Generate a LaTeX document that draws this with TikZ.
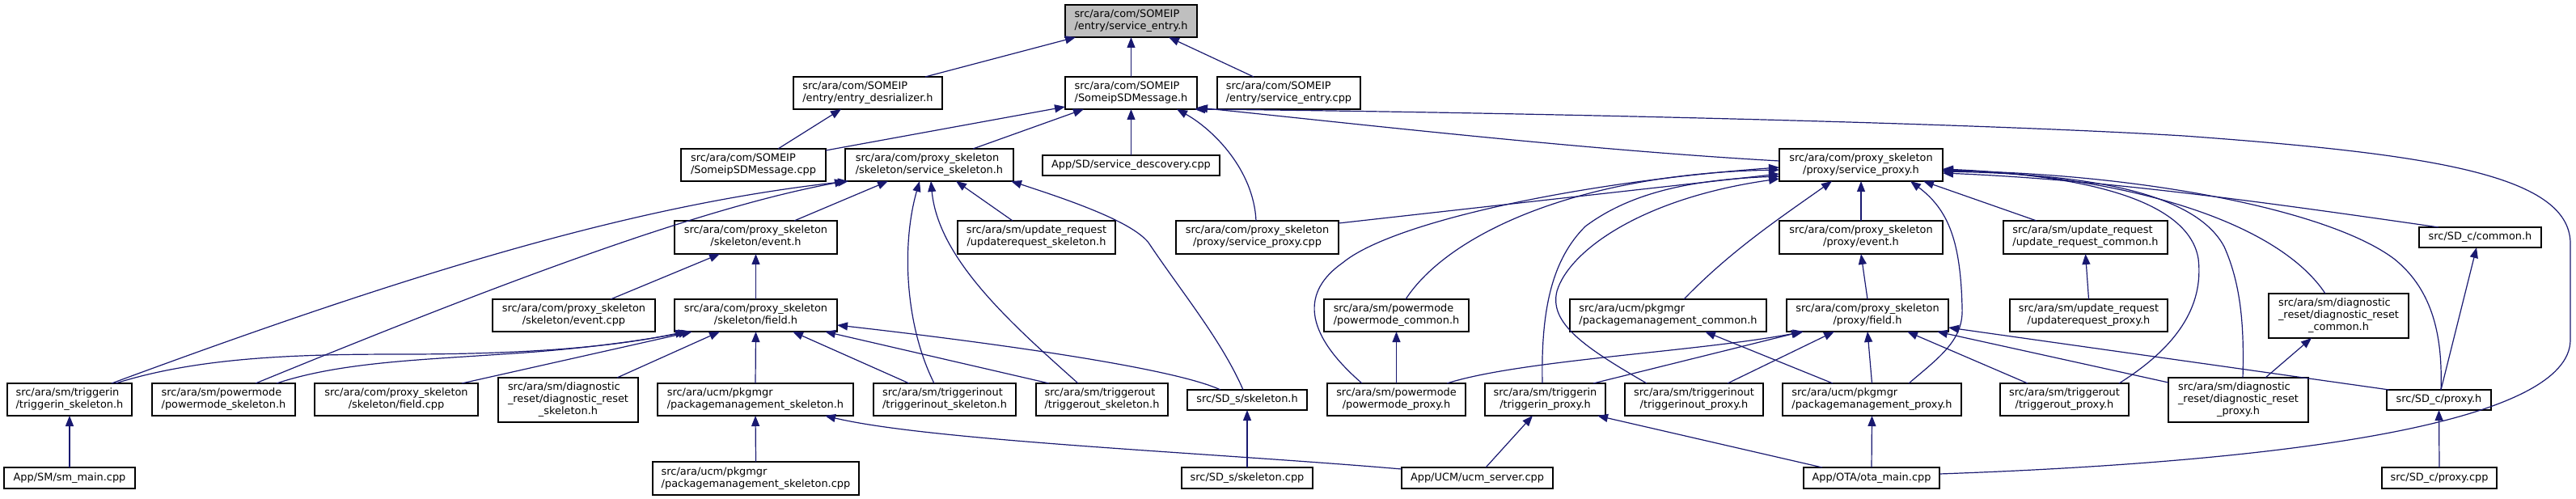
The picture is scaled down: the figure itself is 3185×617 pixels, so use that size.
\documentclass[tikz,border=0pt]{standalone}
\usepackage{fontspec}
\setmainfont{DejaVu Sans}
\usetikzlibrary{arrows.meta}
\definecolor{mblue}{HTML}{191970}
\definecolor{rootgray}{HTML}{BFBFBF}
\newcommand\Ltwo[2]{\begin{tabular}{@{}l@{}}#1\\\multicolumn{1}{@{}c@{}}{#2}\end{tabular}}
\newcommand\Lthree[3]{\begin{tabular}{@{}l@{}}#1\\#2\\\multicolumn{1}{@{}c@{}}{#3}\end{tabular}}
\newcommand\bx[7][]{\node[box,#1,minimum width={#5-#3},minimum height={#6-#4}] (#2) at ({(#3+#5)/2},{(#4+#6)/2}) {#7};}
\begin{document}
\begin{tikzpicture}[x=1pt,y=-1pt,
  box/.style={draw=black,line width=1.3pt,fill=white,inner sep=0pt,outer sep=0pt,font=\fontsize{12.9}{15}\selectfont},
  dep/.style={draw=mblue,line width=1.2pt,-{Triangle[length=13pt,width=10pt]}}]
\useasboundingbox (0,0) rectangle (3185,617);
% nodes
\bx[fill=rootgray]{root}{1317}{6}{1480}{46}{\Ltwo{src/ara/com/SOMEIP}{/entry/service\_entry.h}}
\bx{desr}{981}{95}{1165}{135}{\Ltwo{src/ara/com/SOMEIP}{/entry/entry\_desrializer.h}}
\bx{sdmh}{1317}{95}{1480}{135}{\Ltwo{src/ara/com/SOMEIP}{/SomeipSDMessage.h}}
\bx{secpp}{1505}{95}{1682}{135}{\Ltwo{src/ara/com/SOMEIP}{/entry/service\_entry.cpp}}
\bx{sdmcpp}{842}{184}{1021}{224}{\Ltwo{src/ara/com/SOMEIP}{/SomeipSDMessage.cpp}}
\bx{sskel}{1045}{184}{1253}{224}{\Ltwo{src/ara/com/proxy\_skeleton}{/skeleton/service\_skeleton.h}}
\bx{sdisc}{1289}{192}{1508}{217}{App/SD/service\_descovery.cpp}
\bx{sproxcpp}{1454}{273}{1655}{314}{\Ltwo{src/ara/com/proxy\_skeleton}{/proxy/service\_proxy.cpp}}
\bx{skevh}{834}{273}{1035}{314}{\Ltwo{src/ara/com/proxy\_skeleton}{/skeleton/event.h}}
\bx{urskel}{1184}{273}{1379}{314}{\Ltwo{src/ara/sm/update\_request}{/updaterequest\_skeleton.h}}
\bx{sproxh}{2200}{184}{2402}{224}{\Ltwo{src/ara/com/proxy\_skeleton}{/proxy/service\_proxy.h}}
\bx{pevh}{2200}{273}{2402}{314}{\Ltwo{src/ara/com/proxy\_skeleton}{/proxy/event.h}}
\bx{urcommon}{2477}{273}{2680}{314}{\Ltwo{src/ara/sm/update\_request}{/update\_request\_common.h}}
\bx{sdccommon}{2991}{281}{3142}{306}{src/SD\_c/common.h}
\bx{skevcpp}{609}{370}{810}{410}{\Ltwo{src/ara/com/proxy\_skeleton}{/skeleton/event.cpp}}
\bx{skfield}{834}{370}{1035}{410}{\Ltwo{src/ara/com/proxy\_skeleton}{/skeleton/field.h}}
\bx{pmcommon}{1637}{370}{1816}{410}{\Ltwo{src/ara/sm/powermode}{/powermode\_common.h}}
\bx{pkgcommon}{1941}{370}{2184}{410}{\Ltwo{src/ara/ucm/pkgmgr}{/packagemanagement\_common.h}}
\bx{pfield}{2209}{370}{2409}{410}{\Ltwo{src/ara/com/proxy\_skeleton}{/proxy/field.h}}
\bx{urproxy}{2485}{370}{2680}{410}{\Ltwo{src/ara/sm/update\_request}{/updaterequest\_proxy.h}}
\bx{drcommon}{2805}{363}{2978}{418}{\Lthree{src/ara/sm/diagnostic}{\_reset/diagnostic\_reset}{\_common.h}}
\bx{tinskel}{9}{474}{163}{514}{\Ltwo{src/ara/sm/triggerin}{/triggerin\_skeleton.h}}
\bx{pmskel}{188}{474}{365}{514}{\Ltwo{src/ara/sm/powermode}{/powermode\_skeleton.h}}
\bx{skfieldcpp}{389}{474}{591}{514}{\Ltwo{src/ara/com/proxy\_skeleton}{/skeleton/field.cpp}}
\bx{drskel}{616}{467}{789}{522}{\Lthree{src/ara/sm/diagnostic}{\_reset/diagnostic\_reset}{\_skeleton.h}}
\bx{pkgskel}{813}{474}{1055}{514}{\Ltwo{src/ara/ucm/pkgmgr}{/packagemanagement\_skeleton.h}}
\bx{tioskel}{1080}{474}{1256}{514}{\Ltwo{src/ara/sm/triggerinout}{/triggerinout\_skeleton.h}}
\bx{toskel}{1281}{474}{1444}{514}{\Ltwo{src/ara/sm/triggerout}{/triggerout\_skeleton.h}}
\bx{sdsskel}{1468}{482}{1616}{507}{src/SD\_s/skeleton.h}
\bx{pmproxy}{1641}{474}{1812}{514}{\Ltwo{src/ara/sm/powermode}{/powermode\_proxy.h}}
\bx{tinproxy}{1836}{474}{1985}{514}{\Ltwo{src/ara/sm/triggerin}{/triggerin\_proxy.h}}
\bx{tioproxy}{2009}{474}{2180}{514}{\Ltwo{src/ara/sm/triggerinout}{/triggerinout\_proxy.h}}
\bx{pkgproxy}{2204}{474}{2425}{514}{\Ltwo{src/ara/ucm/pkgmgr}{/packagemanagement\_proxy.h}}
\bx{toproxy}{2473}{474}{2632}{514}{\Ltwo{src/ara/sm/triggerout}{/triggerout\_proxy.h}}
\bx{drproxy}{2681}{467}{2854}{522}{\Lthree{src/ara/sm/diagnostic}{\_reset/diagnostic\_reset}{\_proxy.h}}
\bx{sdcproxy}{2951}{482}{3080}{507}{src/SD\_c/proxy.h}
\bx{smmain}{5}{578}{167}{604}{App/SM/sm\_main.cpp}
\bx{pkgskelcpp}{807}{571}{1062}{612}{\Ltwo{src/ara/ucm/pkgmgr}{/packagemanagement\_skeleton.cpp}}
\bx{sdsskelcpp}{1461}{578}{1623}{604}{src/SD\_s/skeleton.cpp}
\bx{ucm}{1733}{578}{1920}{604}{App/UCM/ucm\_server.cpp}
\bx{ota}{2230}{578}{2398}{604}{App/OTA/ota\_main.cpp}
\bx{sdcproxycpp}{2945}{578}{3087}{604}{src/SD\_c/proxy.cpp}
% edges
\draw[dep] ([xshift=71pt]desr.north) -- ([xshift=-68.5pt]root.south);
\draw[dep] (sdmh.north) -- (root.south);
\draw[dep] ([xshift=-43.5pt]secpp.north) -- ([xshift=46.5pt]root.south);
\draw[dep] ([xshift=30.5pt]sdmcpp.north) -- ([xshift=-33pt]desr.south);
\draw[dep] ([yshift=-2pt]sdmcpp.north east) -- ([yshift=3pt]sdmh.south west);
\draw[dep] ([xshift=54pt]sskel.north) -- ([xshift=-58.5pt]sdmh.south);
\draw[dep] (sdisc.north) -- (sdmh.south);
\draw[dep] ([xshift=-1.5pt]sproxcpp.north) .. controls (1550,210) and (1500,160) .. ([xshift=56.5pt]sdmh.south);
\draw[dep] ([yshift=5pt]sproxh.west) .. controls (1950,185) and (1650,150) .. ([yshift=2pt]sdmh.south east);
\draw[dep] ([yshift=5pt]ota.east) .. controls (2850,570) and (3178,520) .. (3178,420) -- (3178,300) .. controls (3176,215) and (3000,190) .. (2700,168) .. controls (2400,150) and (1800,138) .. ([xshift=-3pt]sdmh.south east);
% to service_skeleton
\draw[dep] ([xshift=47.5pt]skevh.north) -- ([xshift=-51pt]sskel.south);
\draw[dep] ([xshift=-29.5pt]urskel.north) -- ([xshift=33pt]sskel.south);
\draw[dep] ([xshift=-5pt]sdsskel.north) .. controls (1510,420) and (1460,360) .. (1420,300) .. controls (1400,275) and (1330,250) .. ([xshift=-3pt]sskel.south east);
\draw[dep] ([xshift=-13pt]tioskel.north) .. controls (1118,400) and (1115,300) .. ([xshift=-12pt]sskel.south);
\draw[dep] ([xshift=-29.5pt]toskel.north) .. controls (1250,400) and (1160,320) .. ([xshift=2pt]sskel.south);
\draw[dep] ([xshift=52pt]tinskel.north) .. controls (538,326) and (799,252) .. ([xshift=4pt]sskel.south west);
\draw[dep] ([xshift=39.5pt]pmskel.north) .. controls (616,351) and (865,257) .. (sskel.south west);
% skeleton field / event
\draw[dep] (skfield.north) -- (skevh.south);
\draw[dep] ([xshift=45.5pt]skevcpp.north) -- ([xshift=-44.5pt]skevh.south);
\draw[dep] ([xshift=57pt]tinskel.north) .. controls (250,440) and (380,438) .. (500,438) .. controls (700,438) and (790,422) .. ([xshift=-86.5pt]skfield.south);
\draw[dep] ([xshift=65.5pt]pmskel.north) .. controls (420,448) and (520,445) .. (620,438) .. controls (720,432) and (800,420) .. ([xshift=-82.5pt]skfield.south);
\draw[dep] ([xshift=81pt]skfieldcpp.north) -- ([xshift=-78.5pt]skfield.south);
\draw[dep] ([xshift=60.5pt]drskel.north) -- ([xshift=-44.5pt]skfield.south);
\draw[dep] (pkgskel.north) -- (skfield.south);
\draw[dep] ([xshift=-44pt]tioskel.north) -- ([xshift=45.5pt]skfield.south);
\draw[dep] ([xshift=-65.5pt]toskel.north) -- ([xshift=85.5pt]skfield.south);
\draw[dep] ([xshift=-33pt]sdsskel.north) .. controls (1440,450) and (1150,415) .. ([yshift=-12pt]skfield.east);
\draw[dep] (pkgskelcpp.north) -- (pkgskel.south);
\draw[dep] ([yshift=-2pt]ucm.north west) .. controls (1500,560) and (1150,545) .. ([xshift=86pt]pkgskel.south);
\draw[dep] (sdsskelcpp.north) -- (sdsskel.south);
\draw[dep] (smmain.north) -- (tinskel.south);
% to service_proxy.h
\draw[dep] ([yshift=-3pt]sproxcpp.north east) -- ([yshift=-11pt]sproxh.west);
\draw[dep] ([xshift=-42.5pt]pmproxy.north) .. controls (1610,410) and (1610,360) .. (1660,325) .. controls (1720,275) and (1950,225) .. ([yshift=-3pt]sproxh.west);
\draw[dep] ([xshift=11.5pt]pmcommon.north) .. controls (1790,290) and (1950,215) .. ([yshift=-6pt]sproxh.west);
\draw[dep] ([xshift=-3.5pt]tinproxy.north) .. controls (1905,380) and (1920,320) .. (1960,280) .. controls (2020,235) and (2100,222) .. ([yshift=-14pt]sproxh.west);
\draw[dep] ([xshift=-58.5pt]tioproxy.north) .. controls (1960,430) and (1915,400) .. (1925,360) .. controls (1940,310) and (2030,245) .. ([yshift=-17pt]sproxh.west);
\draw[dep] ([xshift=19.5pt]pkgcommon.north) .. controls (2140,310) and (2200,270) .. ([xshift=-36pt]sproxh.south);
\draw[dep] (pevh.north) -- (sproxh.south);
\draw[dep] ([xshift=45.5pt]pkgproxy.north) .. controls (2400,440) and (2428,420) .. (2426,380) .. controls (2424,300) and (2410,260) .. ([xshift=61pt]sproxh.south);
\draw[dep] ([xshift=-60.5pt]urcommon.north) -- ([xshift=77pt]sproxh.south);
\draw[dep] ([xshift=-51.5pt]sdccommon.north) .. controls (2800,250) and (2600,222) .. ([yshift=-10pt]sproxh.east);
\draw[dep] ([xshift=67.5pt]toproxy.north) .. controls (2690,430) and (2725,380) .. (2718,320) .. controls (2705,240) and (2550,215) .. ([yshift=-6pt]sproxh.east);
\draw[dep] ([xshift=5.5pt]drproxy.north) .. controls (2775,400) and (2770,350) .. (2750,305) .. controls (2710,230) and (2550,215) .. ([yshift=-8pt]sproxh.east);
\draw[dep] ([xshift=-16.5pt]drcommon.north) .. controls (2820,280) and (2650,220) .. ([yshift=-5pt]sproxh.east);
\draw[dep] ([xshift=2.5pt]sdcproxy.north) .. controls (3020,420) and (3010,360) .. (2960,320) .. controls (2880,260) and (2650,215) .. ([yshift=-7pt]sproxh.east);
% proxy field
\draw[dep] (pfield.north) -- (pevh.south);
\draw[dep] ([xshift=62.5pt]pmproxy.north) .. controls (1880,445) and (2100,435) .. ([xshift=-79pt]pfield.south);
\draw[dep] ([xshift=59.5pt]tinproxy.north) -- ([xshift=-81pt]pfield.south);
\draw[dep] ([xshift=41.5pt]tioproxy.north) -- ([xshift=-41pt]pfield.south);
\draw[dep] (pkgproxy.north) -- (pfield.south);
\draw[dep] ([xshift=-45.5pt]toproxy.north) -- ([xshift=49pt]pfield.south);
\draw[dep] ([yshift=-6pt]drproxy.north west) -- ([xshift=86pt]pfield.south);
\draw[dep] ([xshift=3pt]sdcproxy.north west) -- ([yshift=5pt]pfield.south east);
\draw[dep] ([xshift=-48.5pt]pkgproxy.north) -- ([xshift=45.5pt]pkgcommon.south);
\draw[dep] (pmproxy.north) -- (pmcommon.south);
\draw[dep] ([xshift=10.5pt]ucm.north) -- ([xshift=-15.5pt]tinproxy.south);
\draw[dep] ([xshift=-61pt]ota.north) -- ([xshift=64.5pt]tinproxy.south);
\draw[dep] (ota.north) -- (pkgproxy.south);
\draw[dep] (urproxy.north) -- (urcommon.south);
\draw[dep] ([xshift=33.5pt]drproxy.north) -- ([xshift=-33.5pt]drcommon.south);
\draw[dep] ([xshift=2.5pt]sdcproxy.north) -- ([xshift=-4.5pt]sdccommon.south);
\draw[dep] (sdcproxycpp.north) -- (sdcproxy.south);
\end{tikzpicture}
\end{document}
